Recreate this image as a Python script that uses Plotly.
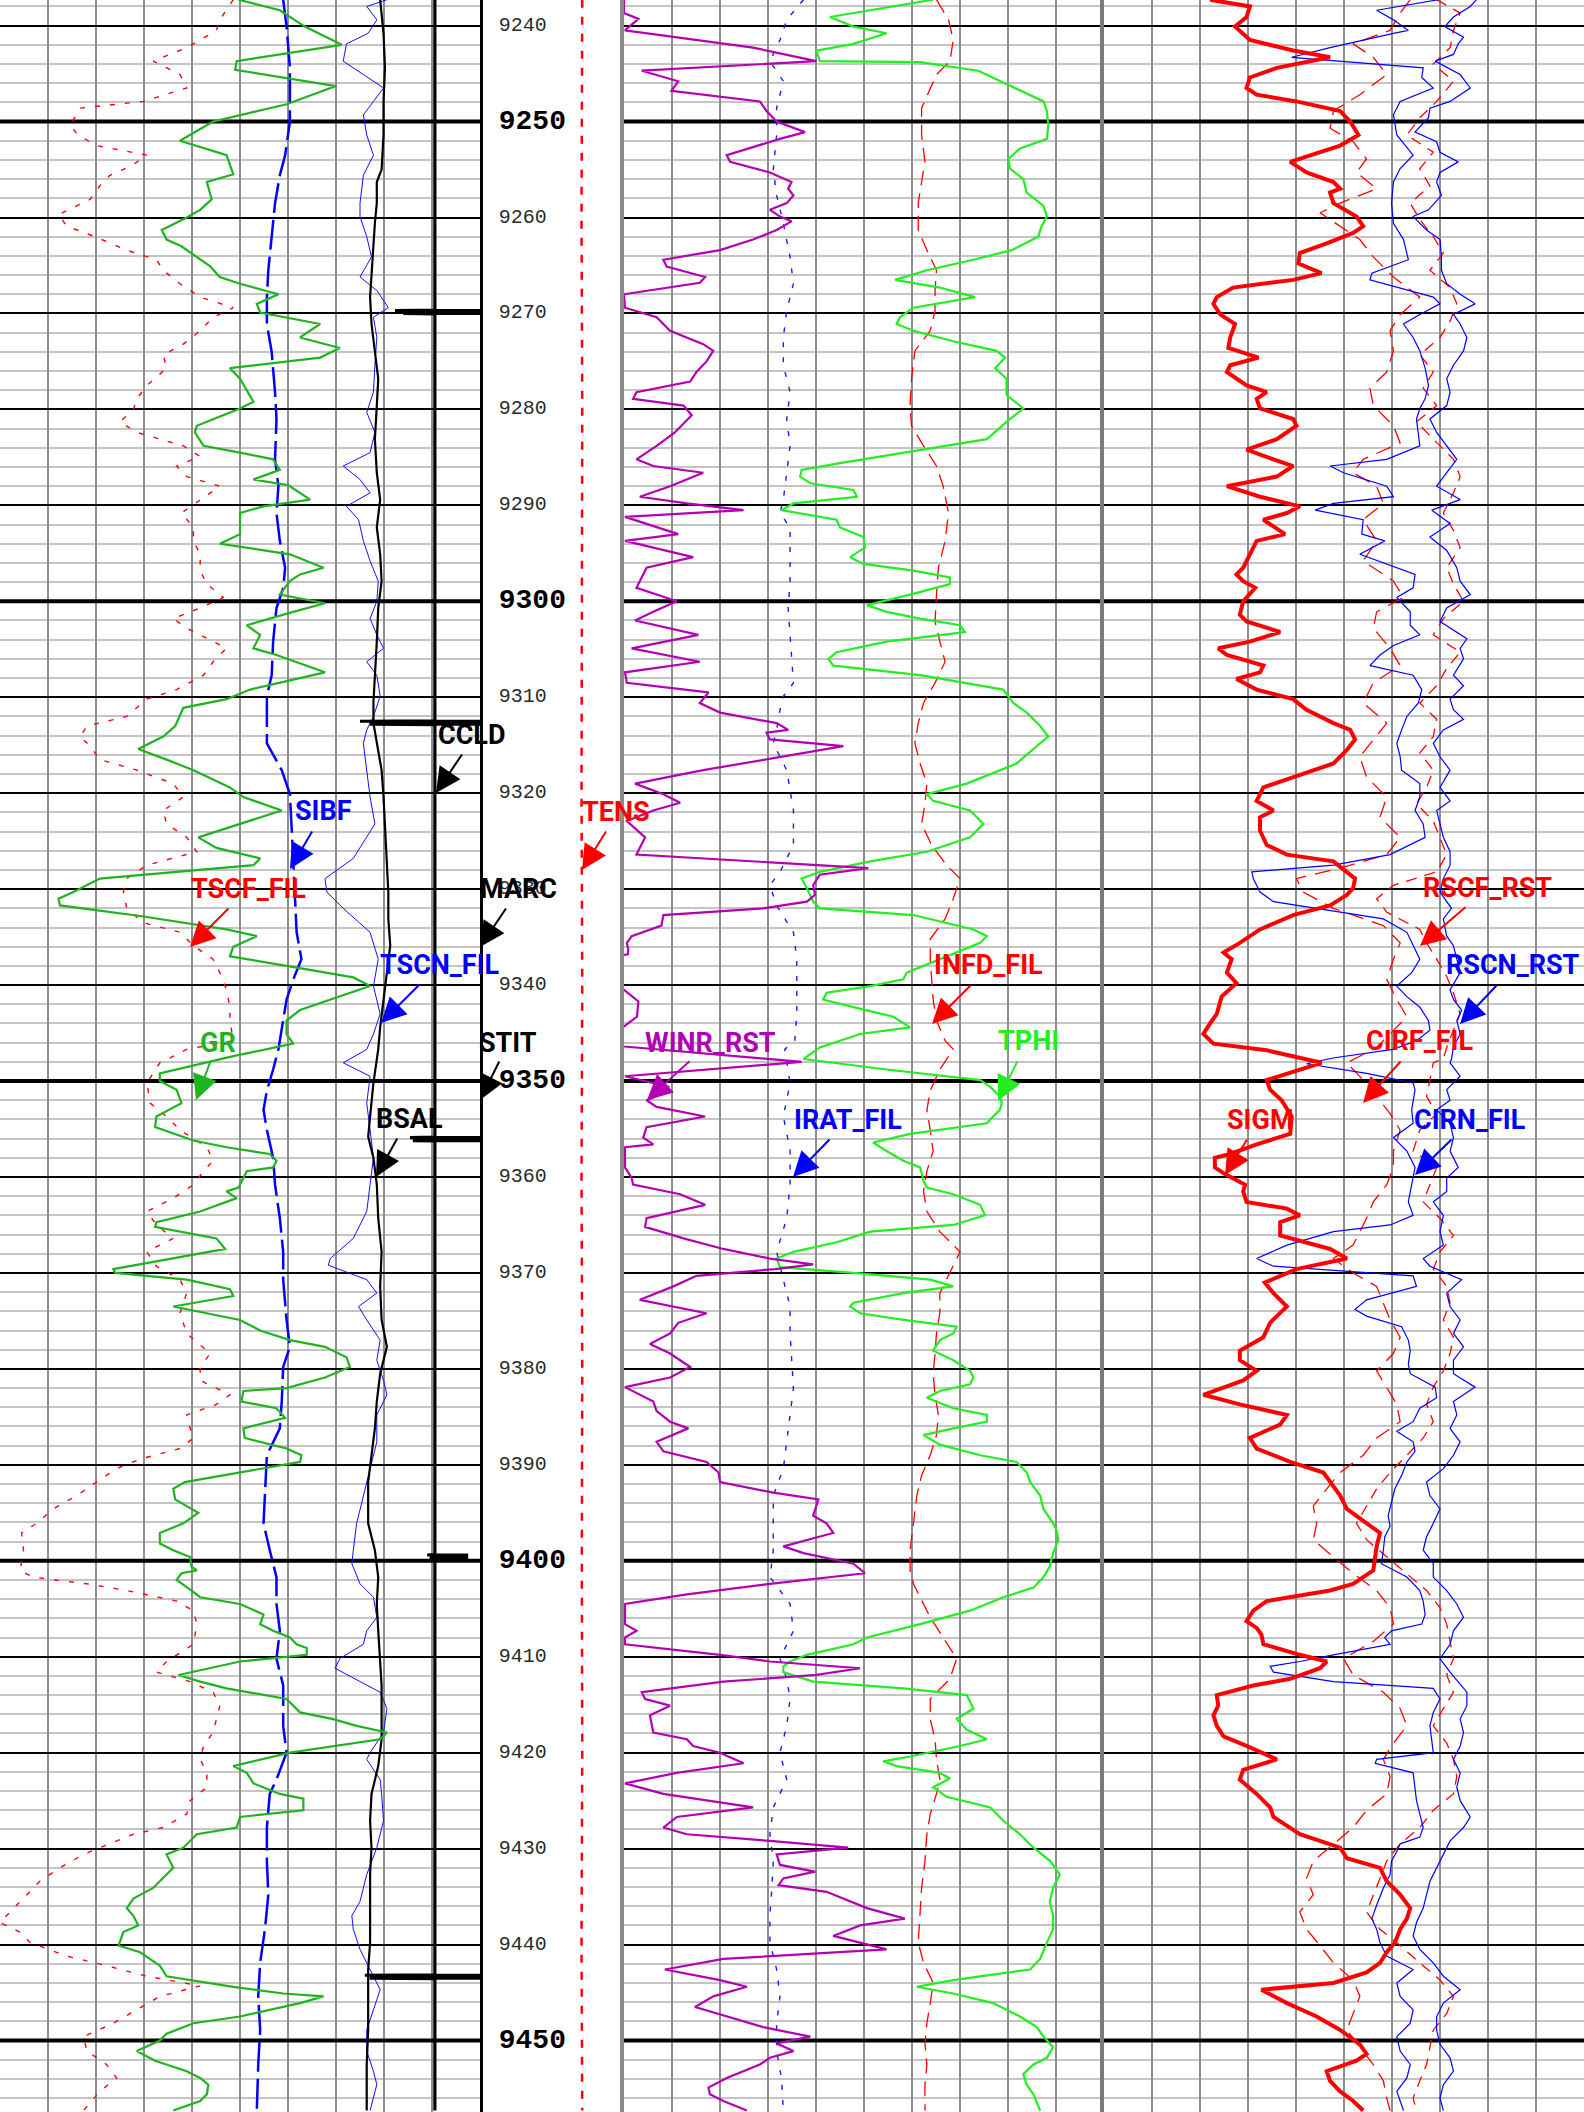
"""Cased-hole log plot: GR / sigma / carbon-oxygen tracks around 9240-9457 ft."""

import plotly.graph_objects as go

W, H = 1584, 2112
TOP, BOTTOM = 9237.33, 9457.45

# track edges in page pixels
TRACK1 = (0, 480)
DEPTH_TRACK = (480, 624)
TRACK2 = (624, 1104)
TRACK3 = (1104, 1584)

DEPTH_TICKS = list(range(9240, 9451, 10))
BOLD_DEPTHS = [9250, 9300, 9350, 9400, 9450]

# ---- curve data: (depth ft, position in track divisions 0-10) ----
GR = [(9237.3, 4.97), (9238.4, 5.83), (9240.1, 6.35), (9242.0, 7.12), (9243.7, 4.93), (9244.6, 4.90),
      (9246.3, 7.00), (9248.2, 5.97), (9250.0, 4.44), (9252.0, 3.75), (9253.5, 4.72), (9255.5, 4.86),
      (9256.3, 4.31), (9258.1, 4.41), (9259.2, 4.17), (9260.0, 3.89), (9261.3, 3.37), (9262.3, 3.47),
      (9263.0, 3.78), (9265.1, 4.38), (9266.2, 4.58), (9266.9, 5.00), (9268.0, 5.80), (9269.0, 5.35),
      (9269.9, 5.42), (9271.1, 6.67), (9272.5, 6.25), (9273.6, 7.08), (9274.6, 6.67), (9275.7, 4.79),
      (9276.8, 5.00), (9278.2, 5.17), (9279.2, 5.28), (9279.9, 5.00), (9281.7, 4.10), (9282.4, 4.06),
      (9283.8, 4.24), (9284.5, 5.00), (9285.2, 5.69), (9286.3, 5.83), (9287.3, 5.28), (9287.9, 6.01),
      (9289.4, 6.46), (9290.1, 5.49), (9290.8, 5.00), (9293.0, 5.00), (9294.0, 4.58), (9295.1, 6.04),
      (9296.5, 6.74), (9297.2, 6.25), (9297.9, 6.04), (9299.3, 5.83), (9300.2, 6.77), (9301.1, 6.11),
      (9302.5, 5.14), (9303.5, 5.42), (9304.9, 5.28), (9305.6, 5.76), (9307.4, 6.77), (9309.2, 5.21),
      (9310.2, 4.72), (9311.1, 3.82), (9313.0, 3.65), (9314.1, 3.40), (9315.4, 2.88), (9316.5, 3.47),
      (9317.6, 4.03), (9319.4, 4.79), (9320.4, 5.07), (9321.8, 5.87), (9323.2, 5.00), (9324.6, 4.13),
      (9325.7, 4.51), (9326.8, 5.42), (9327.5, 5.28), (9328.9, 2.08), (9330.3, 1.53), (9331.0, 1.22),
      (9331.7, 1.25), (9332.8, 2.92), (9334.2, 4.72), (9334.9, 5.35), (9336.0, 4.86), (9337.0, 4.79),
      (9338.0, 5.97), (9339.2, 7.36), (9340.1, 7.71), (9341.5, 6.88), (9342.6, 6.25), (9343.7, 5.97),
      (9345.1, 5.97), (9346.1, 6.11), (9347.4, 4.86), (9349.2, 3.33), (9350.0, 3.33), (9350.9, 3.68),
      (9352.3, 3.78), (9353.7, 3.26), (9354.8, 3.23), (9356.2, 4.03), (9356.9, 4.72), (9357.6, 5.62),
      (9358.3, 5.76), (9359.0, 5.69), (9359.4, 5.14), (9361.1, 4.97), (9361.5, 4.72), (9362.2, 4.93),
      (9363.6, 4.17), (9364.7, 3.26), (9365.2, 3.23), (9366.4, 4.51), (9367.5, 4.69), (9369.6, 2.36),
      (9370.0, 2.40), (9370.7, 3.89), (9371.7, 4.79), (9372.4, 4.86), (9373.5, 3.61), (9374.9, 5.00),
      (9376.0, 5.42), (9377.0, 6.04), (9377.7, 6.77), (9378.8, 7.22), (9379.8, 7.29), (9380.9, 6.77),
      (9382.0, 5.97), (9382.3, 5.07), (9383.4, 5.03), (9384.1, 5.76), (9385.1, 5.94), (9386.2, 5.07),
      (9387.2, 5.10), (9388.3, 5.97), (9389.0, 6.28), (9389.7, 6.25), (9390.8, 5.00), (9391.8, 3.85),
      (9392.5, 3.61), (9393.6, 3.65), (9395.0, 4.13), (9396.1, 3.82), (9397.1, 3.33), (9398.2, 3.33),
      (9398.9, 3.61), (9399.6, 3.96), (9400.6, 3.99), (9401.0, 4.10), (9401.3, 3.78), (9402.0, 3.68),
      (9403.1, 3.99), (9403.8, 4.17), (9404.5, 5.00), (9405.6, 5.49), (9406.6, 5.42), (9407.3, 5.69),
      (9408.0, 6.04), (9408.7, 6.18), (9409.1, 6.39), (9409.8, 6.39), (9410.5, 5.00), (9411.9, 3.72),
      (9412.6, 4.17), (9413.3, 4.72), (9414.4, 5.97), (9415.8, 6.25), (9416.5, 6.94), (9417.2, 7.43),
      (9417.9, 8.06), (9418.6, 7.92), (9420.0, 6.04), (9421.4, 4.86), (9422.1, 5.14), (9423.2, 5.28),
      (9424.3, 5.83), (9424.8, 6.32), (9426.0, 6.32), (9426.7, 5.00), (9427.8, 4.93), (9428.5, 4.10),
      (9429.9, 3.82), (9430.6, 3.47), (9432.0, 3.61), (9433.1, 3.40), (9434.1, 3.19), (9435.2, 2.78),
      (9436.2, 2.64), (9437.0, 2.78), (9438.0, 2.88), (9438.7, 2.57), (9440.1, 2.47), (9440.8, 2.92),
      (9442.2, 3.33), (9443.3, 3.47), (9444.4, 4.86), (9445.1, 5.90), (9445.4, 6.74), (9446.1, 6.25),
      (9447.5, 5.00), (9448.2, 4.03), (9449.3, 3.47), (9450.0, 3.33), (9451.1, 2.85), (9452.1, 3.23),
      (9453.2, 3.89), (9453.9, 4.17), (9454.6, 4.34), (9455.6, 4.31), (9456.3, 4.17), (9457.3, 3.61)]

SIBF = [(9237.3, 5.90), (9240.1, 5.97), (9244.4, 6.04), (9250.0, 6.04), (9253.5, 5.94), (9255.6, 5.83),
        (9258.5, 5.73), (9262.0, 5.66), (9265.5, 5.59), (9268.3, 5.56), (9271.1, 5.56), (9274.0, 5.66),
        (9278.2, 5.73), (9281.0, 5.76), (9285.2, 5.73), (9288.0, 5.80), (9290.8, 5.76), (9293.7, 5.83),
        (9296.5, 5.94), (9298.6, 5.90), (9300.7, 5.76), (9304.2, 5.69), (9307.7, 5.66), (9309.9, 5.56),
        (9312.7, 5.56), (9314.8, 5.56), (9317.6, 5.87), (9320.1, 6.04), (9324.0, 6.08), (9326.8, 6.11),
        (9330.3, 6.15), (9334.5, 6.18), (9337.3, 6.28), (9339.4, 6.11), (9341.5, 5.97), (9344.4, 5.87),
        (9346.7, 5.80), (9348.8, 5.69), (9351.0, 5.56), (9353.0, 5.49), (9355.1, 5.56), (9358.0, 5.69),
        (9360.8, 5.73), (9364.3, 5.83), (9367.8, 5.90), (9370.7, 5.90), (9374.9, 5.97), (9377.7, 6.04),
        (9379.8, 5.90), (9383.4, 5.87), (9386.2, 5.83), (9389.0, 5.56), (9392.5, 5.52), (9396.1, 5.49),
        (9398.9, 5.62), (9401.7, 5.76), (9404.5, 5.76), (9407.3, 5.83), (9410.2, 5.76), (9413.0, 5.90),
        (9417.2, 5.90), (9420.0, 5.97), (9422.8, 5.76), (9424.3, 5.62), (9427.8, 5.56), (9431.3, 5.56),
        (9434.8, 5.59), (9438.4, 5.52), (9441.9, 5.42), (9445.4, 5.38), (9448.9, 5.42), (9452.5, 5.38),
        (9457.3, 5.35)]

TSCN_FIL = [(9237.3, 8.06), (9238.0, 7.64), (9239.4, 7.85), (9240.8, 7.67), (9241.9, 7.22), (9243.7, 7.15),
            (9245.1, 7.57), (9246.5, 7.99), (9247.9, 7.78), (9249.3, 7.57), (9251.4, 7.64), (9253.5, 7.78),
            (9255.6, 7.57), (9258.5, 7.50), (9259.9, 7.50), (9262.0, 7.64), (9264.1, 7.74), (9266.2, 7.50),
            (9267.6, 7.85), (9269.4, 8.09), (9270.4, 7.78), (9272.5, 7.85), (9275.4, 7.81), (9278.2, 7.78),
            (9280.3, 7.64), (9282.4, 7.81), (9284.5, 7.71), (9285.9, 7.15), (9287.3, 7.50), (9288.7, 7.71),
            (9290.1, 7.22), (9291.5, 7.47), (9293.7, 7.57), (9295.8, 7.71), (9297.9, 7.88), (9300.0, 7.85),
            (9301.8, 7.71), (9303.5, 7.85), (9304.9, 7.99), (9306.3, 7.64), (9307.7, 7.85), (9309.9, 7.92),
            (9312.0, 7.78), (9313.4, 7.64), (9314.8, 7.57), (9317.6, 7.64), (9320.4, 7.71), (9323.2, 7.81),
            (9326.8, 7.36), (9328.9, 6.77), (9330.3, 6.81), (9332.0, 7.15), (9334.5, 7.71), (9337.3, 7.88),
            (9340.1, 7.78), (9343.0, 7.92), (9345.1, 7.78), (9346.7, 7.64), (9348.1, 7.15), (9349.5, 7.71),
            (9352.3, 7.64), (9355.1, 7.71), (9358.0, 7.78), (9360.8, 7.71), (9363.6, 7.64), (9366.4, 7.36),
            (9368.5, 6.88), (9369.2, 6.84), (9370.7, 7.64), (9372.1, 7.85), (9373.5, 7.47), (9374.9, 7.64),
            (9377.0, 7.92), (9379.1, 7.85), (9381.2, 7.99), (9382.7, 8.06), (9384.8, 7.85), (9387.6, 7.85),
            (9390.4, 7.71), (9393.2, 7.57), (9396.1, 7.43), (9398.9, 7.36), (9400.3, 7.33), (9402.4, 7.50),
            (9403.8, 7.78), (9405.9, 7.85), (9407.3, 7.64), (9408.7, 7.57), (9410.2, 7.08), (9411.2, 6.98),
            (9412.6, 7.50), (9413.7, 7.92), (9415.4, 8.06), (9417.9, 7.99), (9420.0, 7.71), (9420.7, 7.64),
            (9422.8, 7.92), (9424.3, 7.95), (9427.1, 7.99), (9429.9, 7.85), (9432.7, 7.64), (9435.5, 7.50),
            (9437.0, 7.33), (9438.4, 7.36), (9440.5, 7.50), (9442.6, 7.71), (9444.7, 7.92), (9446.8, 7.78),
            (9448.9, 7.64), (9451.1, 7.64), (9453.2, 7.78), (9454.6, 7.85), (9457.3, 7.71)]

BSAL = [(9237.3, 7.92), (9240.8, 7.99), (9244.4, 8.02), (9247.9, 7.99), (9251.4, 7.99), (9255.0, 7.95),
        (9256.3, 7.85), (9258.5, 7.85), (9260.6, 7.81), (9262.7, 7.78), (9265.5, 7.74), (9268.3, 7.71),
        (9271.1, 7.74), (9274.0, 7.81), (9276.8, 7.88), (9279.6, 7.85), (9283.1, 7.81), (9286.6, 7.85),
        (9289.4, 7.92), (9292.3, 7.85), (9295.1, 7.92), (9297.9, 7.95), (9300.7, 7.88), (9304.2, 7.85),
        (9307.7, 7.81), (9310.5, 7.78), (9312.7, 7.78), (9314.8, 7.85), (9317.6, 7.95), (9320.4, 7.99),
        (9323.2, 8.02), (9326.8, 8.06), (9330.3, 8.09), (9333.1, 8.09), (9335.9, 8.13), (9338.7, 8.06),
        (9341.5, 7.99), (9344.4, 7.92), (9346.7, 7.88), (9350.2, 7.78), (9353.7, 7.71), (9355.8, 7.67),
        (9358.0, 7.78), (9360.8, 7.85), (9364.3, 7.88), (9367.8, 7.95), (9371.4, 7.92), (9374.9, 7.95),
        (9377.7, 8.06), (9380.5, 7.92), (9383.4, 7.85), (9386.2, 7.81), (9389.0, 7.74), (9391.8, 7.67),
        (9396.1, 7.67), (9398.9, 7.81), (9401.7, 7.88), (9404.5, 7.85), (9407.3, 7.88), (9410.2, 7.92),
        (9413.0, 7.95), (9415.8, 7.95), (9418.6, 7.95), (9421.4, 7.88), (9424.3, 7.74), (9427.1, 7.71),
        (9429.9, 7.74), (9432.7, 7.71), (9436.3, 7.71), (9439.8, 7.71), (9442.6, 7.67), (9445.4, 7.67),
        (9448.9, 7.67), (9452.5, 7.64), (9457.3, 7.64)]

TSCF_FIL = [(9237.3, 4.86), (9239.4, 4.58), (9240.5, 4.51), (9242.3, 3.89), (9243.7, 3.19), (9245.1, 3.75),
            (9246.5, 3.89), (9247.9, 2.99), (9248.6, 1.67), (9250.4, 1.46), (9251.4, 1.63), (9252.5, 2.01),
            (9253.5, 3.06), (9254.6, 2.74), (9255.6, 2.29), (9256.7, 2.08), (9258.1, 1.88), (9258.8, 1.60),
            (9259.7, 1.22), (9260.9, 1.39), (9262.0, 1.98), (9263.4, 2.64), (9264.4, 3.26), (9265.5, 3.40),
            (9266.9, 3.75), (9268.3, 4.17), (9269.4, 4.86), (9270.4, 4.44), (9271.8, 4.17), (9273.2, 3.82),
            (9274.3, 3.40), (9275.7, 3.47), (9277.5, 3.06), (9278.9, 2.85), (9280.0, 2.78), (9281.3, 2.50),
            (9282.4, 2.85), (9283.8, 3.82), (9284.9, 4.17), (9285.9, 3.68), (9287.0, 3.89), (9288.0, 4.58),
            (9289.4, 4.17), (9290.8, 3.78), (9292.3, 4.03), (9293.7, 4.03), (9295.1, 4.17), (9296.8, 4.17),
            (9298.2, 4.31), (9299.6, 4.65), (9300.7, 4.17), (9301.8, 3.61), (9302.8, 3.89), (9303.9, 4.31),
            (9304.9, 4.72), (9306.3, 4.44), (9307.7, 4.24), (9309.2, 3.68), (9310.2, 3.06), (9312.0, 2.64),
            (9313.0, 1.81), (9314.1, 1.67), (9315.1, 1.88), (9316.5, 2.08), (9317.6, 2.85), (9319.0, 3.61),
            (9320.4, 3.82), (9321.8, 3.40), (9323.2, 3.47), (9324.6, 3.89), (9326.1, 4.10), (9327.5, 3.06),
            (9328.9, 2.64), (9330.3, 2.57), (9332.0, 2.64), (9333.5, 2.99), (9334.5, 3.75), (9335.9, 4.03),
            (9337.3, 4.44), (9338.7, 4.58), (9340.5, 4.72), (9342.3, 4.79), (9343.7, 4.79), (9345.8, 4.86),
            (9346.7, 3.89), (9348.1, 3.33), (9350.2, 3.06), (9352.3, 3.13), (9353.7, 3.47), (9355.1, 3.75),
            (9356.9, 4.31), (9358.3, 4.44), (9359.4, 4.24), (9360.8, 4.03), (9362.2, 3.61), (9363.6, 3.06),
            (9365.0, 3.26), (9366.4, 3.61), (9367.8, 3.06), (9369.3, 3.26), (9370.7, 3.75), (9372.1, 3.89),
            (9374.2, 3.75), (9376.3, 3.89), (9378.4, 4.38), (9379.8, 4.17), (9381.2, 4.17), (9382.7, 4.79),
            (9383.7, 4.51), (9384.8, 3.89), (9386.2, 3.96), (9387.2, 4.03), (9388.3, 3.75), (9389.4, 2.92),
            (9390.4, 2.43), (9391.8, 2.01), (9393.2, 1.60), (9394.6, 1.11), (9396.1, 0.76), (9397.1, 0.45),
            (9398.9, 0.49), (9401.0, 0.42), (9401.7, 0.69), (9402.4, 1.81), (9403.1, 2.64), (9404.2, 3.68),
            (9405.2, 4.03), (9406.6, 4.10), (9408.7, 4.03), (9410.5, 3.47), (9411.6, 3.26), (9412.6, 3.96),
            (9413.7, 4.44), (9415.1, 4.58), (9416.5, 4.51), (9417.9, 4.44), (9419.3, 4.24), (9420.7, 4.17),
            (9422.1, 4.31), (9423.6, 4.31), (9425.0, 3.96), (9426.4, 3.89), (9427.8, 3.40), (9428.5, 2.78),
            (9429.2, 2.43), (9430.6, 1.74), (9432.0, 1.25), (9433.4, 0.83), (9434.8, 0.56), (9436.3, 0.28),
            (9437.7, 0.00), (9438.7, 0.42), (9439.8, 0.63), (9441.2, 1.39), (9442.2, 2.22), (9443.3, 3.06),
            (9444.3, 4.17), (9445.4, 3.33), (9446.8, 2.85), (9448.2, 2.36), (9449.6, 1.74), (9451.1, 1.81),
            (9452.5, 2.22), (9453.9, 2.43), (9455.3, 2.08), (9457.3, 1.74)]

# casing collar locator: baseline with collar kicks
CCLD = [(9237.3, 9.06), (9269.65, 9.06), (9269.7, 8.23), (9269.7, 10.0), (9270.0, 10.0), (9270.0, 8.4),
        (9270.05, 9.06), (9312.45, 9.06), (9312.5, 7.5), (9312.5, 10.0), (9312.8, 10.0), (9312.8, 7.7),
        (9312.85, 9.06), (9355.85, 9.06), (9355.9, 8.54), (9355.9, 10.0), (9356.2, 10.0), (9356.2, 8.6),
        (9356.25, 9.06), (9399.35, 9.06), (9399.4, 8.9), (9399.4, 9.72), (9399.65, 9.72), (9399.65, 8.95),
        (9399.7, 9.06), (9443.15, 9.06), (9443.2, 7.6), (9443.2, 10.0), (9443.5, 10.0), (9443.5, 7.7),
        (9443.55, 9.06), (9457.3, 9.06)]

# cable tension, plotted in the depth column (fraction of column width)
TENS = [(9237.3, 0.710), (9260.0, 0.705), (9280.0, 0.710), (9300.0, 0.708), (9320.0, 0.705),
        (9340.0, 0.710), (9360.0, 0.705), (9380.0, 0.710), (9400.0, 0.707), (9420.0, 0.710),
        (9440.0, 0.705), (9457.3, 0.710)]

WINR_RST = [(9237.3, 0.00), (9238.7, 0.00), (9239.3, 0.30), (9240.5, 0.02), (9242.3, 2.69), (9243.7, 4.01),
            (9244.7, 0.37), (9245.8, 1.13), (9246.8, 0.99), (9247.9, 2.83), (9248.9, 2.97), (9250.0, 3.18),
            (9251.1, 3.77), (9251.8, 3.25), (9253.5, 2.14), (9254.2, 2.21), (9255.3, 3.04), (9256.3, 3.49),
            (9257.0, 3.42), (9257.7, 3.53), (9258.5, 3.39), (9259.2, 3.04), (9259.9, 3.25), (9260.4, 3.49),
            (9261.3, 3.18), (9262.3, 2.69), (9263.4, 2.00), (9264.4, 0.82), (9265.1, 0.89), (9266.2, 1.69),
            (9266.8, 1.58), (9268.0, 0.00), (9269.4, 0.02), (9270.4, 0.68), (9271.8, 0.96), (9273.2, 1.65),
            (9273.9, 1.86), (9275.0, 1.72), (9276.1, 1.51), (9277.1, 1.38), (9278.2, 0.26), (9278.9, 0.19),
            (9279.6, 1.24), (9280.6, 1.41), (9282.4, 1.06), (9283.8, 0.68), (9285.2, 0.26), (9285.9, 0.61),
            (9286.6, 1.65), (9288.0, 0.96), (9289.1, 0.33), (9289.8, 1.31), (9290.5, 2.49), (9291.2, 0.02),
            (9293.0, 1.13), (9293.7, 0.02), (9295.4, 1.44), (9296.5, 0.47), (9298.6, 0.26), (9300.0, 1.10),
            (9301.1, 0.61), (9302.0, 0.23), (9303.5, 1.55), (9304.9, 0.16), (9306.3, 1.58), (9307.4, 0.02),
            (9308.5, 0.06), (9309.5, 1.76), (9310.6, 1.58), (9311.6, 2.00), (9312.7, 3.18), (9313.4, 3.42),
            (9313.7, 2.97), (9314.4, 3.04), (9315.1, 4.57), (9316.5, 2.90), (9317.6, 1.65), (9319.0, 0.23),
            (9320.1, 0.82), (9321.0, 1.17), (9321.8, 0.61), (9322.9, 0.06), (9324.6, 0.44), (9326.4, 0.26),
            (9327.1, 2.69), (9327.8, 5.09), (9328.5, 4.08), (9329.6, 3.94), (9330.6, 3.98), (9331.3, 3.81),
            (9332.0, 2.90), (9332.7, 0.82), (9333.8, 0.78), (9334.9, 0.16), (9335.6, 0.06), (9336.3, 0.09),
            (9336.8, 0.08), (9337.2, -0.5), (9340.2, -0.5), (9340.5, 0.00), (9341.7, 0.30), (9343.3, 0.27),
            (9344.3, 0.00), (9344.6, -0.5), (9346.1, -0.5), (9346.4, 0.00), (9348.0, 3.70), (9349.5, 0.02),
            (9350.6, 0.92), (9351.3, 0.82), (9352.0, 0.47), (9352.7, 0.68), (9353.7, 1.69), (9354.8, 0.47),
            (9355.9, 0.40), (9356.6, 0.61), (9356.9, 0.02), (9359.0, 0.02), (9360.1, 0.16), (9360.8, 0.19),
            (9361.8, 1.17), (9362.9, 1.69), (9364.3, 0.47), (9365.2, 0.44), (9366.4, 1.24), (9367.5, 2.07),
            (9368.5, 3.04), (9369.1, 3.94), (9369.6, 3.15), (9370.3, 1.51), (9371.4, 1.03), (9372.8, 0.33),
            (9374.2, 1.72), (9375.2, 1.13), (9376.3, 0.96), (9377.4, 0.54), (9378.4, 0.96), (9379.8, 1.38),
            (9380.9, 0.96), (9381.9, 0.02), (9383.4, 0.61), (9384.4, 0.68), (9385.5, 0.96), (9386.2, 1.34),
            (9387.6, 0.68), (9388.6, 0.82), (9389.7, 1.72), (9390.8, 1.97), (9391.8, 2.00), (9392.9, 3.11),
            (9393.6, 4.05), (9394.3, 4.01), (9395.3, 3.94), (9396.1, 4.22), (9397.1, 4.36), (9398.5, 3.32),
            (9399.2, 3.74), (9400.3, 4.78), (9401.3, 5.02), (9402.4, 3.04), (9403.5, 1.31), (9404.5, 0.02),
            (9406.6, 0.02), (9407.3, 0.26), (9408.0, 0.02), (9408.7, 0.02), (9409.8, 2.00), (9410.5, 3.04),
            (9411.2, 4.92), (9411.9, 4.01), (9412.6, 2.07), (9413.7, 0.37), (9414.4, 0.44), (9415.1, 0.96),
            (9416.1, 0.54), (9417.9, 0.61), (9418.6, 1.31), (9419.3, 1.44), (9420.0, 2.00), (9421.1, 2.49),
            (9422.1, 1.10), (9423.2, 0.02), (9424.3, 0.82), (9425.7, 2.69), (9426.7, 1.10), (9427.8, 0.82),
            (9428.5, 1.31), (9429.2, 3.04), (9429.9, 4.67), (9430.6, 3.18), (9431.7, 3.25), (9432.4, 3.98),
            (9433.1, 3.32), (9433.8, 3.22), (9434.5, 4.22), (9436.2, 5.06), (9437.3, 5.85), (9438.0, 4.92),
            (9439.1, 4.36), (9440.5, 5.47), (9441.5, 2.07), (9442.6, 0.85), (9443.7, 2.00), (9444.4, 2.56),
            (9445.4, 1.86), (9446.5, 1.48), (9447.5, 2.14), (9448.6, 2.90), (9449.6, 3.88), (9450.3, 3.18),
            (9451.1, 3.53), (9451.8, 3.04), (9452.5, 2.83), (9453.9, 2.14), (9454.9, 1.76), (9455.6, 1.79),
            (9456.3, 2.07), (9457.3, 2.56)]

IRAT_FIL = [(9237.3, 3.74), (9239.4, 3.39), (9241.5, 3.25), (9243.7, 3.04), (9245.8, 3.32), (9248.6, 3.18),
            (9251.4, 3.18), (9255.0, 3.11), (9257.7, 3.18), (9260.6, 3.32), (9264.1, 3.46), (9266.9, 3.53),
            (9269.7, 3.39), (9272.5, 3.32), (9275.4, 3.32), (9278.2, 3.46), (9281.0, 3.39), (9283.8, 3.46),
            (9286.6, 3.39), (9289.4, 3.32), (9290.8, 3.25), (9292.3, 3.46), (9295.1, 3.46), (9297.9, 3.46),
            (9300.7, 3.42), (9303.5, 3.46), (9306.3, 3.49), (9308.5, 3.53), (9309.9, 3.32), (9311.3, 3.25),
            (9313.4, 3.18), (9314.8, 3.11), (9317.6, 3.39), (9321.8, 3.53), (9325.4, 3.53), (9328.2, 3.25),
            (9329.6, 3.04), (9331.7, 3.18), (9334.5, 3.53), (9337.3, 3.60), (9340.1, 3.60), (9343.0, 3.60),
            (9345.8, 3.56), (9346.7, 3.35), (9350.2, 3.46), (9353.7, 3.32), (9357.2, 3.46), (9360.8, 3.46),
            (9364.3, 3.39), (9367.8, 3.18), (9370.7, 3.32), (9373.5, 3.46), (9376.3, 3.46), (9379.1, 3.49),
            (9382.0, 3.53), (9384.8, 3.46), (9387.6, 3.39), (9390.4, 3.32), (9393.2, 3.11), (9396.1, 3.11),
            (9398.9, 3.11), (9401.7, 3.04), (9404.5, 3.46), (9407.3, 3.53), (9410.2, 3.25), (9412.3, 3.39),
            (9414.4, 3.46), (9417.2, 3.39), (9420.0, 3.25), (9422.8, 3.39), (9425.7, 3.11), (9428.5, 3.04),
            (9431.3, 3.11), (9434.1, 3.08), (9436.9, 3.04), (9439.8, 3.04), (9442.6, 3.18), (9445.4, 3.25),
            (9448.2, 3.18), (9451.1, 3.18), (9453.9, 3.28), (9457.3, 3.32)]

TPHI = [(9237.3, 6.44), (9239.1, 4.29), (9240.1, 4.78), (9240.8, 5.47), (9241.9, 4.78), (9242.6, 4.01),
        (9243.7, 4.08), (9243.8, 6.17), (9244.7, 7.38), (9246.1, 7.97), (9247.9, 8.74), (9248.9, 8.81),
        (9250.4, 8.84), (9251.8, 8.81), (9252.8, 8.25), (9253.9, 8.01), (9254.9, 8.04), (9256.0, 8.32),
        (9257.4, 8.39), (9258.8, 8.74), (9259.9, 8.81), (9260.9, 8.70), (9262.0, 8.63), (9263.4, 8.08),
        (9264.4, 7.28), (9265.5, 6.31), (9266.5, 5.65), (9267.3, 6.58), (9268.3, 7.31), (9269.4, 6.03),
        (9270.4, 5.75), (9271.1, 5.68), (9271.8, 6.03), (9272.9, 6.86), (9273.9, 7.76), (9274.6, 7.94),
        (9275.7, 7.73), (9276.8, 7.97), (9278.5, 7.97), (9279.9, 8.32), (9281.3, 7.97), (9283.1, 7.56),
        (9284.2, 6.17), (9285.6, 4.50), (9286.3, 3.70), (9287.0, 3.67), (9287.7, 3.88), (9288.4, 4.78),
        (9289.1, 4.85), (9289.8, 3.53), (9290.5, 3.28), (9291.5, 4.43), (9292.3, 4.50), (9293.3, 4.99),
        (9294.4, 5.02), (9295.4, 4.71), (9296.1, 4.99), (9296.8, 6.03), (9297.5, 6.79), (9298.2, 6.79),
        (9299.3, 5.96), (9300.4, 5.06), (9301.1, 5.47), (9301.8, 6.17), (9302.5, 7.00), (9303.2, 7.10),
        (9304.2, 5.47), (9305.3, 4.43), (9306.0, 4.26), (9306.7, 4.36), (9307.7, 6.17), (9309.2, 7.90),
        (9310.6, 8.11), (9311.6, 8.39), (9313.0, 8.67), (9314.1, 8.84), (9315.1, 8.60), (9316.9, 8.18),
        (9319.0, 7.14), (9320.1, 6.31), (9320.8, 6.44), (9321.8, 7.21), (9323.2, 7.49), (9324.6, 7.21),
        (9326.1, 6.31), (9327.1, 5.13), (9328.2, 4.08), (9328.9, 3.70), (9329.9, 3.81), (9330.6, 3.88),
        (9331.3, 3.94), (9332.0, 4.08), (9332.7, 6.03), (9334.2, 7.28), (9334.9, 7.56), (9335.6, 7.42),
        (9337.3, 6.58), (9338.7, 5.89), (9339.4, 5.82), (9340.1, 5.13), (9340.8, 4.22), (9341.5, 4.15),
        (9342.3, 4.78), (9343.3, 5.61), (9344.4, 5.96), (9345.1, 4.92), (9346.5, 4.08), (9347.7, 3.74),
        (9348.8, 5.47), (9349.9, 7.42), (9350.6, 7.63), (9351.6, 7.83), (9352.3, 7.87), (9353.0, 7.83),
        (9353.7, 7.69), (9354.4, 7.56), (9355.5, 5.96), (9356.4, 5.19), (9357.3, 5.47), (9358.3, 5.82),
        (9359.0, 6.17), (9360.4, 6.24), (9361.1, 6.31), (9361.8, 6.86), (9362.9, 7.42), (9364.0, 7.52),
        (9365.0, 6.86), (9365.7, 5.13), (9366.8, 4.43), (9367.8, 3.53), (9368.5, 3.18), (9369.4, 3.25),
        (9370.0, 4.78), (9370.7, 6.38), (9371.4, 6.86), (9372.1, 5.82), (9373.1, 4.78), (9373.5, 4.71),
        (9374.2, 4.92), (9374.9, 5.82), (9375.6, 6.93), (9376.3, 6.86), (9377.0, 6.58), (9378.1, 6.44),
        (9379.1, 6.86), (9380.2, 7.21), (9380.9, 7.28), (9381.6, 7.21), (9382.3, 6.58), (9383.0, 6.31),
        (9384.1, 6.86), (9384.8, 7.56), (9385.5, 7.56), (9386.2, 6.86), (9386.9, 6.24), (9387.9, 6.58),
        (9389.0, 7.42), (9389.7, 8.18), (9390.8, 8.39), (9391.8, 8.46), (9393.2, 8.67), (9394.6, 8.74),
        (9396.1, 8.94), (9396.8, 9.01), (9397.8, 9.05), (9399.2, 8.94), (9400.6, 8.87), (9401.7, 8.74),
        (9402.8, 8.53), (9403.8, 7.90), (9405.2, 7.21), (9406.6, 6.17), (9408.0, 5.06), (9408.7, 4.78),
        (9409.8, 3.81), (9410.5, 3.46), (9411.0, 3.32), (9411.6, 3.32), (9412.6, 3.94), (9413.3, 5.82),
        (9414.0, 7.14), (9414.7, 7.21), (9415.4, 7.28), (9416.5, 6.93), (9417.6, 7.14), (9418.6, 7.56),
        (9419.3, 7.00), (9420.4, 5.96), (9420.9, 5.40), (9421.4, 5.68), (9422.1, 6.58), (9422.7, 6.79),
        (9423.6, 6.44), (9424.6, 6.72), (9425.7, 7.63), (9427.1, 7.90), (9428.5, 8.25), (9429.9, 8.53),
        (9431.3, 8.88), (9432.7, 9.08), (9434.1, 8.94), (9435.5, 8.87), (9437.0, 8.94), (9438.4, 8.94),
        (9439.8, 8.81), (9441.5, 8.67), (9442.6, 8.46), (9443.7, 6.86), (9444.4, 6.10), (9445.1, 6.86),
        (9446.1, 7.69), (9447.5, 8.25), (9448.6, 8.60), (9449.6, 8.74), (9450.7, 8.94), (9451.8, 8.81),
        (9452.5, 8.53), (9453.5, 8.32), (9454.6, 8.39), (9455.6, 8.53), (9457.3, 8.67)]

INFD_FIL = [(9237.3, 6.51), (9239.4, 6.76), (9241.5, 6.86), (9243.7, 6.79), (9245.1, 6.51), (9246.5, 6.38),
            (9248.6, 6.20), (9251.4, 6.20), (9254.2, 6.27), (9256.3, 6.20), (9258.5, 6.13), (9261.3, 6.13),
            (9263.4, 6.31), (9265.5, 6.51), (9267.6, 6.48), (9269.7, 6.48), (9271.8, 6.38), (9273.9, 6.06),
            (9276.8, 5.99), (9279.6, 5.96), (9281.7, 5.99), (9283.8, 6.24), (9285.9, 6.51), (9288.0, 6.65),
            (9290.8, 6.76), (9293.7, 6.69), (9296.5, 6.55), (9299.3, 6.51), (9302.1, 6.48), (9304.2, 6.58),
            (9306.3, 6.69), (9308.5, 6.48), (9310.6, 6.24), (9312.7, 6.13), (9314.8, 6.06), (9316.9, 6.17),
            (9319.0, 6.31), (9321.1, 6.27), (9323.2, 6.20), (9325.4, 6.41), (9327.5, 6.72), (9328.9, 7.00),
            (9331.0, 6.86), (9333.1, 6.69), (9335.2, 6.38), (9337.3, 6.38), (9339.4, 6.41), (9341.5, 6.44),
            (9343.7, 6.51), (9345.8, 6.69), (9346.7, 6.86), (9348.8, 6.58), (9351.0, 6.38), (9353.0, 6.31),
            (9355.1, 6.38), (9357.3, 6.44), (9359.4, 6.31), (9361.5, 6.24), (9363.6, 6.31), (9365.7, 6.58),
            (9367.8, 7.00), (9369.9, 6.79), (9372.1, 6.58), (9374.2, 6.58), (9376.3, 6.51), (9378.4, 6.48),
            (9380.5, 6.44), (9382.7, 6.48), (9384.8, 6.55), (9386.9, 6.51), (9389.0, 6.38), (9391.1, 6.20),
            (9393.2, 6.10), (9396.1, 6.03), (9398.9, 5.96), (9401.0, 5.96), (9402.4, 6.03), (9403.8, 6.17),
            (9405.9, 6.38), (9408.0, 6.65), (9410.2, 6.93), (9412.3, 6.79), (9414.4, 6.38), (9416.5, 6.38),
            (9418.6, 6.48), (9420.7, 6.51), (9422.8, 6.58), (9424.3, 6.51), (9426.4, 6.38), (9428.5, 6.31),
            (9431.3, 6.27), (9434.1, 6.20), (9437.0, 6.17), (9439.8, 6.13), (9441.9, 6.24), (9444.0, 6.44),
            (9446.1, 6.38), (9448.2, 6.31), (9450.3, 6.27), (9452.5, 6.31), (9454.6, 6.27), (9457.3, 6.27)]

SIGM = [(9237.3, 2.21), (9238.0, 3.04), (9239.1, 2.97), (9240.1, 2.73), (9241.5, 3.04), (9242.6, 3.94),
        (9243.3, 4.71), (9244.4, 3.60), (9245.4, 3.04), (9246.5, 2.97), (9247.2, 3.18), (9247.9, 4.01),
        (9248.9, 4.92), (9250.0, 5.13), (9251.4, 5.30), (9252.5, 4.92), (9254.2, 3.88), (9255.3, 4.22),
        (9256.3, 4.78), (9257.0, 4.92), (9257.4, 4.71), (9258.5, 4.78), (9259.9, 5.26), (9260.9, 5.40),
        (9261.6, 5.19), (9262.7, 4.64), (9263.7, 4.08), (9264.8, 4.05), (9265.8, 4.53), (9266.5, 3.94),
        (9267.3, 2.69), (9268.3, 2.35), (9269.0, 2.28), (9270.1, 2.42), (9271.1, 2.73), (9272.5, 2.63),
        (9273.6, 2.59), (9274.6, 3.22), (9275.4, 2.63), (9276.1, 2.56), (9277.5, 2.97), (9278.2, 3.39),
        (9278.9, 3.18), (9279.9, 3.25), (9281.0, 3.94), (9281.7, 4.01), (9283.1, 3.60), (9284.2, 2.97),
        (9285.2, 3.53), (9285.9, 3.94), (9287.0, 3.60), (9288.0, 2.56), (9289.1, 3.25), (9290.1, 4.08),
        (9290.8, 3.81), (9291.5, 3.32), (9293.0, 3.77), (9293.7, 3.18), (9295.1, 3.04), (9296.5, 2.90),
        (9297.2, 2.76), (9297.9, 2.90), (9298.6, 3.15), (9300.0, 2.90), (9301.4, 2.83), (9302.1, 2.97),
        (9303.2, 3.67), (9304.2, 3.04), (9304.9, 2.38), (9305.6, 2.56), (9306.7, 3.32), (9307.4, 3.25),
        (9308.1, 2.76), (9309.2, 3.18), (9310.2, 3.94), (9311.3, 4.22), (9312.7, 4.78), (9313.4, 5.13),
        (9314.4, 5.23), (9315.5, 5.06), (9316.9, 4.78), (9318.3, 3.94), (9319.4, 3.32), (9320.8, 3.18),
        (9321.8, 3.53), (9322.5, 3.25), (9323.9, 3.25), (9325.4, 3.39), (9326.4, 3.81), (9327.1, 4.78),
        (9328.2, 5.06), (9328.9, 5.23), (9329.9, 5.19), (9330.6, 5.06), (9331.7, 4.71), (9332.7, 3.94),
        (9334.2, 3.25), (9335.6, 2.83), (9336.6, 2.49), (9337.3, 2.66), (9338.7, 2.56), (9339.8, 2.76),
        (9341.2, 2.45), (9342.3, 2.38), (9343.0, 2.35), (9344.0, 2.21), (9345.1, 2.07), (9346.1, 2.28),
        (9346.8, 3.39), (9348.1, 4.53), (9349.9, 3.39), (9350.9, 3.46), (9352.0, 3.70), (9353.7, 3.91),
        (9355.5, 3.88), (9356.6, 3.18), (9357.6, 2.63), (9358.0, 2.31), (9359.0, 2.31), (9359.7, 2.52),
        (9360.8, 2.94), (9361.5, 2.90), (9362.6, 2.97), (9363.3, 3.81), (9364.0, 4.08), (9364.7, 3.67),
        (9366.1, 3.67), (9367.5, 4.71), (9368.5, 5.06), (9369.6, 4.01), (9371.0, 3.35), (9372.1, 3.53),
        (9373.5, 3.81), (9374.5, 3.60), (9375.2, 3.46), (9376.7, 3.32), (9378.1, 2.83), (9379.1, 2.83),
        (9380.2, 3.18), (9381.2, 2.90), (9382.7, 2.07), (9383.7, 2.83), (9384.8, 3.81), (9385.8, 3.67),
        (9387.2, 3.04), (9388.3, 3.18), (9389.7, 3.88), (9390.8, 4.57), (9391.8, 4.71), (9393.2, 4.92),
        (9394.6, 5.06), (9396.1, 5.47), (9397.1, 5.75), (9398.5, 5.68), (9401.0, 5.61), (9402.4, 5.19),
        (9403.1, 4.71), (9404.2, 3.39), (9405.2, 3.11), (9406.3, 2.97), (9407.0, 3.18), (9407.7, 3.28),
        (9408.7, 3.32), (9409.8, 4.08), (9410.5, 4.64), (9411.2, 4.50), (9412.3, 3.88), (9413.0, 3.11),
        (9414.0, 2.35), (9415.1, 2.38), (9416.1, 2.28), (9417.2, 2.35), (9418.3, 2.49), (9419.3, 2.97),
        (9420.7, 3.60), (9421.8, 2.90), (9422.8, 2.83), (9424.3, 3.18), (9425.7, 3.46), (9426.7, 3.53),
        (9428.5, 4.08), (9429.9, 4.92), (9431.0, 5.06), (9432.0, 5.75), (9433.4, 5.89), (9434.8, 6.17),
        (9436.2, 6.38), (9437.3, 6.31), (9438.4, 6.17), (9439.8, 6.06), (9440.8, 5.89), (9441.9, 5.75),
        (9442.9, 5.47), (9444.0, 4.78), (9444.7, 3.28), (9446.1, 3.81), (9447.5, 4.43), (9448.9, 4.92),
        (9450.4, 5.33), (9451.4, 5.47), (9452.1, 5.26), (9453.2, 4.64), (9454.2, 4.71), (9455.3, 4.92),
        (9456.3, 5.19), (9457.3, 5.40)]

CIRN_FIL = [(9237.3, 6.97), (9238.4, 5.68), (9239.4, 6.03), (9240.5, 6.34), (9240.8, 6.03), (9242.3, 4.71),
            (9243.3, 3.91), (9244.4, 6.65), (9245.4, 6.62), (9246.5, 6.86), (9247.9, 6.17), (9249.3, 6.03),
            (9251.4, 6.10), (9253.5, 6.44), (9254.9, 6.17), (9256.3, 6.03), (9258.5, 5.99), (9260.6, 6.03),
            (9262.3, 6.24), (9264.4, 6.34), (9265.8, 5.58), (9266.5, 5.54), (9268.3, 6.86), (9269.0, 7.00),
            (9270.1, 6.58), (9271.1, 6.24), (9272.5, 6.44), (9273.9, 6.58), (9275.7, 6.69), (9277.5, 6.76),
            (9278.9, 6.69), (9279.9, 6.58), (9281.0, 6.51), (9283.8, 6.58), (9285.2, 5.89), (9285.9, 4.71),
            (9286.6, 4.99), (9288.0, 5.89), (9289.1, 6.03), (9289.8, 4.78), (9290.5, 4.40), (9291.5, 5.40),
            (9293.0, 5.37), (9293.7, 5.85), (9295.1, 5.33), (9296.1, 5.89), (9297.2, 6.48), (9298.6, 6.44),
            (9299.6, 6.10), (9301.1, 6.38), (9302.5, 6.38), (9303.5, 6.58), (9304.6, 6.03), (9305.6, 5.75),
            (9306.7, 5.54), (9307.7, 6.44), (9309.2, 6.62), (9310.6, 6.55), (9312.0, 6.31), (9313.4, 6.20),
            (9314.8, 6.10), (9316.2, 6.17), (9317.6, 6.20), (9319.0, 6.58), (9320.4, 6.58), (9321.8, 6.48),
            (9323.2, 6.65), (9324.6, 6.69), (9326.4, 5.96), (9327.5, 4.78), (9328.2, 3.08), (9328.9, 3.11),
            (9330.3, 3.25), (9331.3, 3.53), (9332.4, 4.92), (9333.1, 5.82), (9334.5, 6.31), (9335.9, 6.44),
            (9337.3, 6.58), (9338.7, 6.41), (9340.1, 6.10), (9341.2, 6.31), (9342.3, 6.58), (9343.7, 6.76),
            (9344.7, 6.79), (9345.8, 6.51), (9346.7, 6.02), (9347.6, 4.77), (9348.2, 4.22), (9349.2, 5.47),
            (9350.2, 6.44), (9350.9, 6.48), (9353.0, 6.41), (9354.4, 6.44), (9355.9, 6.03), (9357.3, 6.31),
            (9359.0, 6.48), (9360.8, 6.41), (9362.6, 6.34), (9364.0, 6.44), (9365.0, 5.96), (9365.7, 4.78),
            (9367.1, 3.81), (9368.5, 3.18), (9369.3, 3.53), (9370.3, 6.44), (9371.4, 6.51), (9372.8, 5.47),
            (9373.8, 5.23), (9374.5, 5.47), (9375.6, 6.20), (9377.0, 6.34), (9378.1, 6.38), (9379.5, 6.34),
            (9380.5, 6.38), (9381.9, 6.90), (9383.0, 6.93), (9384.1, 6.58), (9385.5, 6.44), (9386.5, 6.10),
            (9387.6, 6.44), (9388.6, 6.48), (9389.7, 6.31), (9391.1, 6.20), (9392.5, 6.06), (9393.9, 5.99),
            (9395.3, 5.92), (9396.4, 5.96), (9397.5, 5.85), (9398.9, 5.82), (9400.3, 5.78), (9401.7, 6.31),
            (9403.1, 6.58), (9404.2, 6.65), (9405.6, 6.69), (9406.6, 6.62), (9407.3, 5.99), (9408.0, 5.85),
            (9408.7, 5.96), (9409.8, 4.78), (9410.5, 4.08), (9411.0, 3.46), (9411.6, 3.53), (9412.6, 4.78),
            (9413.3, 6.86), (9414.4, 7.00), (9415.8, 6.86), (9417.2, 6.79), (9418.6, 6.83), (9420.0, 6.86),
            (9420.7, 5.68), (9421.1, 5.65), (9422.1, 6.44), (9423.6, 6.48), (9425.0, 6.51), (9426.4, 6.58),
            (9427.8, 6.65), (9428.8, 6.58), (9429.5, 6.17), (9430.3, 6.10), (9431.3, 5.99), (9432.7, 5.96),
            (9434.1, 5.82), (9435.9, 5.68), (9437.3, 5.58), (9438.4, 5.68), (9439.8, 5.75), (9441.2, 5.89),
            (9442.6, 6.44), (9444.0, 6.10), (9445.4, 6.17), (9446.8, 6.44), (9448.2, 6.38), (9449.6, 6.10),
            (9451.1, 6.17), (9452.5, 6.38), (9453.9, 6.31), (9455.3, 6.10), (9457.3, 6.24)]

RSCN_RST = [(9237.3, 7.76), (9238.0, 7.63), (9239.1, 7.28), (9240.1, 7.10), (9241.2, 7.49), (9241.9, 7.38),
            (9243.0, 7.28), (9243.7, 6.90), (9245.1, 7.42), (9246.5, 7.63), (9247.9, 7.21), (9248.6, 6.79),
            (9249.6, 6.76), (9251.1, 6.48), (9252.1, 6.93), (9253.2, 7.00), (9254.2, 7.38), (9255.3, 7.00),
            (9256.3, 6.93), (9257.7, 7.03), (9259.2, 6.76), (9259.9, 6.44), (9261.3, 6.72), (9262.3, 7.00),
            (9264.1, 7.03), (9265.5, 7.03), (9266.9, 7.14), (9268.0, 7.42), (9269.0, 7.73), (9270.1, 7.28),
            (9271.1, 7.42), (9272.5, 7.56), (9273.9, 7.49), (9275.4, 7.28), (9276.8, 7.14), (9278.2, 7.21),
            (9279.6, 7.14), (9281.0, 6.79), (9282.4, 6.93), (9283.8, 7.14), (9285.2, 7.35), (9286.6, 7.14),
            (9288.0, 6.93), (9289.4, 7.42), (9290.5, 6.83), (9291.9, 7.21), (9293.3, 6.79), (9294.7, 7.14),
            (9296.5, 7.35), (9297.9, 7.42), (9299.3, 7.63), (9300.7, 7.14), (9302.1, 7.00), (9303.9, 7.56),
            (9304.9, 7.42), (9306.0, 7.49), (9307.7, 7.28), (9308.8, 7.49), (9310.2, 7.21), (9311.3, 7.28),
            (9312.3, 7.49), (9313.4, 7.07), (9314.8, 6.86), (9316.2, 7.00), (9317.6, 7.21), (9319.4, 7.00),
            (9320.8, 7.21), (9321.8, 6.93), (9323.2, 7.00), (9324.6, 7.07), (9326.1, 7.21), (9327.5, 7.21),
            (9328.9, 7.07), (9330.3, 7.00), (9332.0, 7.24), (9333.1, 7.07), (9334.9, 7.14), (9335.9, 7.28),
            (9337.3, 7.35), (9338.7, 7.42), (9340.5, 7.21), (9341.5, 7.28), (9342.6, 7.45), (9343.7, 7.35),
            (9345.1, 7.42), (9346.5, 7.28), (9347.7, 7.24), (9348.1, 7.21), (9349.5, 7.42), (9350.9, 7.14),
            (9352.0, 7.21), (9353.0, 6.93), (9354.4, 7.21), (9355.9, 7.28), (9357.3, 7.21), (9359.0, 7.38),
            (9360.1, 7.14), (9361.5, 7.14), (9362.6, 6.86), (9364.0, 7.07), (9365.7, 7.00), (9367.1, 7.07),
            (9368.5, 6.65), (9369.3, 6.79), (9370.7, 7.45), (9372.1, 7.14), (9373.5, 7.21), (9374.9, 7.42),
            (9376.3, 7.28), (9377.7, 7.49), (9379.1, 7.28), (9380.5, 7.28), (9381.9, 7.73), (9383.4, 7.28),
            (9384.8, 7.35), (9386.2, 7.21), (9387.6, 7.42), (9389.0, 7.28), (9390.4, 7.07), (9391.8, 6.72),
            (9393.2, 6.79), (9394.6, 7.00), (9396.1, 6.86), (9397.5, 6.72), (9398.9, 6.65), (9400.3, 6.86),
            (9401.7, 6.86), (9403.1, 7.14), (9404.5, 7.35), (9405.9, 7.49), (9407.3, 7.28), (9408.7, 7.21),
            (9410.2, 7.00), (9411.6, 7.21), (9413.7, 7.56), (9415.1, 7.56), (9416.5, 7.42), (9417.9, 7.49),
            (9419.3, 7.42), (9420.7, 7.28), (9422.1, 7.42), (9423.6, 7.35), (9425.0, 7.42), (9426.7, 7.63),
            (9427.8, 7.49), (9429.2, 7.21), (9430.6, 7.07), (9432.0, 6.93), (9433.4, 6.79), (9434.8, 6.72),
            (9436.2, 6.65), (9437.7, 6.51), (9439.1, 6.44), (9440.5, 6.58), (9441.9, 6.86), (9443.3, 7.07),
            (9444.7, 7.42), (9446.1, 7.07), (9447.5, 6.93), (9448.9, 6.93), (9450.4, 7.00), (9451.8, 7.21),
            (9453.2, 7.28), (9454.6, 7.07), (9456.0, 7.00), (9457.3, 7.07)]

CIRF_FIL = [(9237.3, 6.38), (9238.7, 6.17), (9240.5, 5.96), (9241.9, 5.19), (9243.3, 5.61), (9245.1, 5.89),
            (9247.2, 5.33), (9248.9, 4.78), (9250.7, 4.71), (9252.1, 5.19), (9253.9, 5.47), (9255.3, 5.26),
            (9257.0, 5.68), (9258.5, 4.92), (9259.5, 4.50), (9260.9, 4.92), (9262.3, 5.33), (9264.1, 5.61),
            (9266.2, 6.03), (9268.3, 6.58), (9270.1, 6.17), (9271.8, 5.96), (9273.9, 6.03), (9276.1, 5.89),
            (9277.8, 5.54), (9279.6, 5.61), (9281.7, 6.03), (9283.5, 6.17), (9285.2, 5.40), (9286.6, 5.19),
            (9288.0, 5.68), (9289.8, 5.82), (9291.5, 5.40), (9293.7, 5.68), (9295.8, 5.40), (9297.9, 6.03),
            (9299.6, 6.24), (9301.1, 5.68), (9302.8, 5.61), (9304.9, 5.96), (9306.7, 6.17), (9308.5, 5.61),
            (9310.6, 5.40), (9312.7, 5.89), (9314.4, 5.61), (9316.2, 5.33), (9318.3, 5.47), (9320.4, 5.89),
            (9322.5, 5.75), (9324.6, 6.17), (9326.4, 5.89), (9327.8, 4.92), (9328.9, 4.01), (9330.3, 4.15),
            (9332.0, 4.78), (9333.8, 5.82), (9335.6, 6.17), (9337.3, 6.03), (9339.4, 5.89), (9341.5, 6.10),
            (9343.3, 6.31), (9345.1, 5.96), (9346.5, 5.68), (9348.1, 5.06), (9349.9, 5.40), (9351.6, 5.68),
            (9353.4, 5.96), (9355.1, 6.17), (9357.3, 6.03), (9359.0, 6.03), (9360.8, 5.89), (9362.6, 5.61),
            (9364.3, 5.47), (9365.7, 5.33), (9367.1, 5.19), (9368.5, 4.78), (9370.0, 5.19), (9371.4, 5.68),
            (9373.1, 5.82), (9374.9, 5.96), (9376.7, 6.17), (9378.4, 6.03), (9380.2, 5.68), (9381.9, 5.89),
            (9383.7, 6.10), (9385.5, 6.17), (9387.2, 5.68), (9389.0, 5.40), (9390.8, 4.92), (9392.5, 4.64),
            (9394.3, 4.36), (9396.1, 4.43), (9397.8, 4.36), (9399.6, 4.78), (9401.3, 5.19), (9403.1, 5.68),
            (9404.9, 5.96), (9406.6, 6.03), (9408.4, 5.61), (9410.2, 4.99), (9411.9, 5.19), (9413.7, 5.82),
            (9415.4, 6.17), (9417.2, 6.31), (9419.0, 6.03), (9420.7, 5.82), (9422.5, 5.96), (9424.3, 5.89),
            (9426.0, 5.47), (9427.8, 5.19), (9429.5, 4.78), (9431.3, 4.36), (9433.1, 4.22), (9434.8, 4.36),
            (9436.6, 4.08), (9438.4, 4.22), (9440.1, 4.50), (9441.9, 4.78), (9443.7, 5.19), (9445.4, 5.33),
            (9447.2, 5.19), (9448.9, 5.06), (9450.7, 5.33), (9452.5, 5.61), (9454.2, 5.82), (9456.0, 5.89),
            (9457.3, 5.96)]

RSCF_RST = [(9237.3, 6.93), (9238.7, 7.42), (9240.5, 7.28), (9242.3, 7.21), (9244.0, 6.86), (9245.8, 7.28),
            (9247.9, 6.93), (9249.6, 6.58), (9251.4, 6.31), (9253.2, 6.86), (9254.9, 6.58), (9256.7, 6.79),
            (9258.5, 6.38), (9260.2, 6.58), (9262.0, 6.86), (9263.7, 7.07), (9265.5, 6.79), (9267.3, 7.21),
            (9269.0, 7.35), (9270.8, 7.21), (9272.5, 7.00), (9274.3, 6.58), (9276.1, 6.86), (9277.8, 6.65),
            (9279.6, 6.93), (9281.3, 6.51), (9283.1, 6.86), (9285.2, 7.28), (9287.0, 7.42), (9288.7, 7.28),
            (9290.8, 7.07), (9292.6, 7.28), (9294.4, 7.42), (9296.5, 7.14), (9298.2, 7.28), (9300.0, 7.49),
            (9301.8, 7.07), (9303.5, 6.86), (9305.3, 7.42), (9307.0, 7.14), (9308.8, 6.93), (9310.6, 6.58),
            (9312.3, 6.93), (9314.1, 6.86), (9315.8, 6.58), (9317.6, 6.86), (9319.4, 6.72), (9321.1, 6.51),
            (9322.9, 6.86), (9324.6, 7.00), (9326.4, 7.14), (9328.2, 6.93), (9329.6, 6.03), (9331.0, 5.68),
            (9332.4, 5.89), (9334.2, 6.58), (9335.6, 6.72), (9337.3, 6.93), (9339.1, 7.14), (9340.8, 7.28),
            (9343.0, 7.42), (9344.7, 7.28), (9346.5, 7.14), (9347.7, 7.07), (9348.1, 6.86), (9349.9, 6.79),
            (9351.6, 6.72), (9353.4, 6.93), (9355.1, 6.58), (9357.3, 6.44), (9359.0, 6.93), (9360.8, 6.79),
            (9362.6, 6.65), (9364.3, 7.00), (9366.1, 7.28), (9367.8, 7.00), (9369.6, 6.86), (9371.4, 7.14),
            (9373.1, 7.21), (9374.9, 7.07), (9376.7, 7.28), (9378.4, 7.21), (9380.2, 7.07), (9381.9, 6.86),
            (9383.7, 6.72), (9385.5, 6.86), (9387.2, 6.65), (9389.0, 6.31), (9390.8, 5.96), (9392.5, 5.68),
            (9394.3, 5.47), (9396.1, 5.26), (9397.8, 5.47), (9399.6, 5.89), (9401.3, 6.31), (9403.1, 6.72),
            (9404.9, 7.00), (9406.6, 7.14), (9408.4, 7.21), (9410.2, 7.28), (9411.9, 7.14), (9413.7, 7.28),
            (9415.4, 7.07), (9417.2, 6.86), (9419.0, 7.14), (9420.7, 7.28), (9422.5, 7.35), (9424.3, 7.28),
            (9426.0, 6.86), (9427.8, 6.58), (9429.5, 6.17), (9431.3, 5.89), (9433.1, 5.75), (9434.8, 5.61),
            (9436.6, 5.47), (9438.4, 5.75), (9440.1, 6.17), (9441.9, 6.58), (9443.7, 7.00), (9445.4, 7.28),
            (9447.2, 7.14), (9448.9, 6.86), (9450.7, 6.79), (9452.5, 6.72), (9454.2, 6.58), (9456.0, 6.44),
            (9457.3, 6.51)]

# (name, data, axis suffix, colour, width, dash)
CURVES = [
    ("TSCF_FIL", TSCF_FIL, "", "#ff0000", 1.4, "5px,10px"),
    ("SIBF", SIBF, "", "#0000ff", 2.5, "30px,7px"),
    ("TSCN_FIL", TSCN_FIL, "", "#1010ff", 1.0, None),
    ("BSAL", BSAL, "", "#000000", 2.2, None),
    ("GR", GR, "", "#1fb41f", 2.2, None),
    ("CCLD", CCLD, "", "#000000", 3.2, None),
    ("TENS", TENS, "2", "#ff0000", 2.5, "8px,9px"),
    ("IRAT_FIL", IRAT_FIL, "3", "#1a1aff", 1.4, "5px,10px"),
    ("INFD_FIL", INFD_FIL, "3", "#ff0000", 1.3, "15px,8px"),
    ("TPHI", TPHI, "3", "#22ee22", 2.2, None),
    ("WINR_RST", WINR_RST, "3", "#b300b3", 2.2, None),
    ("CIRF_FIL", CIRF_FIL, "4", "#ff0000", 1.3, "16px,9px"),
    ("RSCF_RST", RSCF_RST, "4", "#ff0000", 1.3, "11px,8px"),
    ("CIRN_FIL", CIRN_FIL, "4", "#0000ff", 1.2, None),
    ("RSCN_RST", RSCN_RST, "4", "#0000ff", 1.2, None),
    ("SIGM", SIGM, "4", "#ff0000", 4.0, None),
]

# mnemonic callouts: text, colour, text centre (px), arrow tail (px), arrow head (px)
CALLOUTS = [
    ("CCLD", "#000000", (472, 735), (463, 753), (436, 793)),
    ("SIBF", "#0000ff", (323, 811), (313, 830), (290, 869)),
    ("TSCF_FIL", "#ff0000", (248, 889), (230, 907), (190, 947)),
    ("MARC", "#000000", (518, 889), (507, 907), (480, 947)),
    ("TSCN_FIL", "#0000ff", (440, 965), (421, 983), (381, 1023)),
    ("GR", "#1fb41f", (218, 1043), (211, 1060), (196, 1100)),
    ("STIT", "#000000", (508, 1043), (500, 1060), (480, 1100)),
    ("BSAL", "#000000", (409, 1119), (398, 1137), (376, 1177)),
    ("TENS", "#ff0000", (616, 812), (607, 830), (582, 870)),
    ("WINR_RST", "#b300b3", (710, 1043), (691, 1060), (647, 1100)),
    ("IRAT_FIL", "#0000ff", (848, 1120), (831, 1138), (793, 1177)),
    ("INFD_FIL", "#ff0000", (988, 965), (972, 984), (932, 1024)),
    ("TPHI", "#22ee22", (1028, 1041), (1018, 1060), (998, 1101)),
    ("RSCF_RST", "#ff0000", (1487, 888), (1467, 906), (1420, 946)),
    ("RSCN_RST", "#0000ff", (1513, 965), (1498, 984), (1460, 1024)),
    ("CIRF_FIL", "#ff0000", (1419, 1041), (1402, 1060), (1363, 1103)),
    ("SIGM", "#ff0000", (1260, 1120), (1248, 1138), (1225, 1175)),
    ("CIRN_FIL", "#0000ff", (1470, 1120), (1453, 1138), (1415, 1175)),
]

LABEL_FONT = "Roboto, Liberation Sans, Arial, sans-serif"
DEPTH_FONT = "Liberation Mono, DejaVu Sans Mono, monospace"


def dom(edges):
    return [edges[0] / W, edges[1] / W]


fig = go.Figure()

# heavier 50 ft lines, drawn first so the curves sit on top
for ax in ["", "3", "4"]:
    xs, ys = [], []
    for d in BOLD_DEPTHS:
        xs += [0, 10, None]
        ys += [d, d, None]
    fig.add_trace(go.Scatter(x=xs, y=ys, mode="lines", line=dict(color="#000000", width=4),
                             xaxis="x" + ax, yaxis="y" + ax, hoverinfo="skip"))

for name, data, ax, color, width, dash in CURVES:
    depths = [d for d, _ in data]
    vals = [v for _, v in data]
    line = dict(color=color, width=width)
    if dash:
        line["dash"] = dash
    fig.add_trace(go.Scatter(x=vals, y=depths, mode="lines", name=name, line=line,
                             xaxis="x" + ax, yaxis="y" + ax, hoverinfo="skip"))

# depth numbers in the depth column
reg = [d for d in DEPTH_TICKS if d not in BOLD_DEPTHS]
fig.add_trace(go.Scatter(x=[0.13] * len(reg), y=reg, mode="text", text=[str(d) for d in reg],
                         textposition="middle right", xaxis="x2", yaxis="y2", hoverinfo="skip",
                         textfont=dict(family=DEPTH_FONT, size=20, color="#2a2a2a")))
fig.add_trace(go.Scatter(x=[0.13] * len(BOLD_DEPTHS), y=BOLD_DEPTHS, mode="text",
                         text=["<b>%d</b>" % d for d in BOLD_DEPTHS], textposition="middle right",
                         xaxis="x2", yaxis="y2", hoverinfo="skip",
                         textfont=dict(family=DEPTH_FONT, size=28, color="#000000")))

xgrid = dict(range=[0, 10], dtick=1, tick0=0, showgrid=True, gridcolor="#8e8e8e", gridwidth=2,
             showticklabels=False, ticks="", zeroline=False, showline=False, fixedrange=True)
ygrid = dict(range=[BOTTOM, TOP], domain=[0, 1], dtick=10, tick0=9240, showgrid=True,
             gridcolor="#000000", gridwidth=2, showticklabels=False, ticks="", zeroline=False,
             minor=dict(dtick=2, tick0=9240, showgrid=True, gridcolor="#c4c4c4", gridwidth=2),
             fixedrange=True)

fig.update_layout(
    width=W, height=H, margin=dict(l=0, r=0, t=0, b=0, pad=0),
    paper_bgcolor="white", plot_bgcolor="rgba(0,0,0,0)", showlegend=False,
    xaxis=dict(domain=dom(TRACK1), anchor="y", **xgrid),
    yaxis=dict(anchor="x", side="right", showline=True, linecolor="#000000", linewidth=3, **ygrid),
    xaxis2=dict(domain=dom(DEPTH_TRACK), anchor="y2", range=[0, 1], showgrid=False, zeroline=False,
                showticklabels=False, ticks="", showline=False, fixedrange=True),
    yaxis2=dict(anchor="x2", range=[BOTTOM, TOP], domain=[0, 1], showgrid=False, zeroline=False,
                showticklabels=False, ticks="", showline=False, fixedrange=True),
    xaxis3=dict(domain=dom(TRACK2), anchor="y3", **xgrid),
    yaxis3=dict(anchor="x3", side="left", showline=True, linecolor="#8a8a8a", linewidth=4, **ygrid),
    xaxis4=dict(domain=dom(TRACK3), anchor="y4", **xgrid),
    yaxis4=dict(anchor="x4", side="left", showline=True, linecolor="#7a7a7a", linewidth=4, **ygrid),
)

for text, color, (tx, ty), (sx, sy), (hx, hy) in CALLOUTS:
    fig.add_annotation(x=tx / W, y=1 - ty / H, xref="paper", yref="paper", text="<b>%s</b>" % text,
                       showarrow=False, xanchor="center", yanchor="middle",
                       font=dict(family=LABEL_FONT, size=27, color=color))
    fig.add_annotation(x=hx / W, y=1 - hy / H, xref="paper", yref="paper", text="",
                       showarrow=True, ax=sx - hx, ay=sy - hy, arrowhead=2, arrowsize=2.5,
                       arrowwidth=2, arrowcolor=color, standoff=0, startstandoff=0)

# page body has a default margin; drop it so the plot fills the window from the corner
fig.write_html("out.html", config={"displayModeBar": False},
               post_script="document.body.style.margin='0';document.body.style.padding='0';")
